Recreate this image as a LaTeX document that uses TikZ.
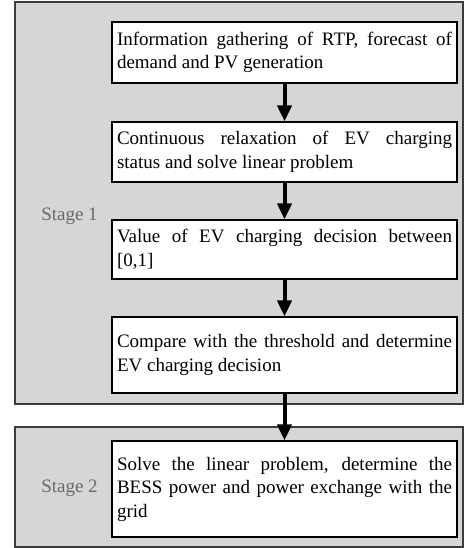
\documentclass[tikz,border=0pt]{standalone}
\usepackage{fontspec}
\setmainfont{Liberation Serif}
\usetikzlibrary{arrows.meta}
\definecolor{stagefill}{RGB}{214,214,214}
\definecolor{stageline}{RGB}{60,60,60}
\definecolor{labelgray}{RGB}{105,105,105}
\newcommand{\boxfont}{\fontsize{19}{23.5}\selectfont\hyphenpenalty=10000 \exhyphenpenalty=10000\relax}
\begin{document}
\begin{tikzpicture}[x=1pt,y=-1pt,
  stagebox/.style={draw=stageline, line width=1.5pt, fill=stagefill, rectangle,
    minimum width=448pt, inner sep=0pt},
  wbox/.style={draw=black, line width=1.2pt, fill=white, rectangle,
    minimum width=345pt, text width=335pt, inner xsep=5pt, inner ysep=0pt,
    align=justify, font=\boxfont},
  stagelabel/.style={text=labelgray, anchor=base, inner sep=0pt,
    font=\fontsize{19}{22}\selectfont},
  flow/.style={line width=4pt, -{Triangle[width=14pt,length=16pt]}}
]
\useasboundingbox (0,0) rectangle (466,548);
\node[stagebox, minimum height=402pt] (s1) at (239,203) {};
\node[stagebox, minimum height=120pt] (s2) at (239,487) {};
\node[stagelabel] (l1) at (69.5,220) {Stage 1};
\node[stagelabel] (l2) at (69.5,492) {Stage 2};
\node[wbox, minimum height=61pt] (b1) at (284.5,52.5) {Information gathering of RTP, forecast of\linebreak demand and PV generation};
\node[wbox, minimum height=60pt] (b2) at (284.5,152) {Continuous relaxation of EV charging\linebreak status and solve linear problem};
\node[wbox, minimum height=59pt] (b3) at (284.5,249.5) {Value of EV charging decision between\linebreak {[}0,1]};
\node[wbox, minimum height=76pt] (b4) at (284.5,355) {Compare with the threshold and determine\linebreak EV charging decision};
\node[wbox, minimum height=96pt] (b5) at (284.5,489) {Solve the linear problem, determine the\linebreak BESS power and power exchange with the\linebreak grid};
\draw[flow] (b1.south) -- (b2.north);
\draw[flow] (b2.south) -- (b3.north);
\draw[flow] (b3.south) -- (b4.north);
\draw[flow] (b4.south) -- (b5.north);
\end{tikzpicture}
\end{document}
